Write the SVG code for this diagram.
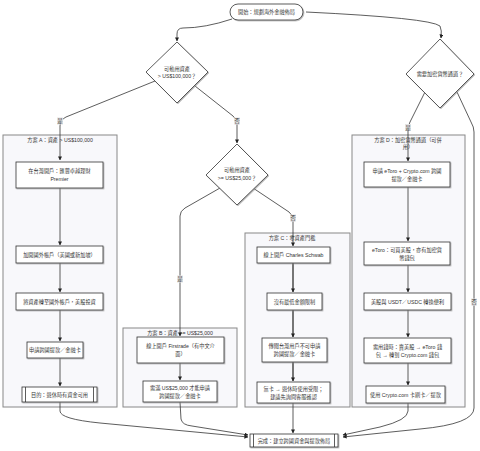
<svg xmlns="http://www.w3.org/2000/svg" width="480" height="451" viewBox="0 0 480 451">
<defs>
<style>
text{font-family:"Liberation Sans","Noto Sans CJK TC",sans-serif;font-size:5.2px;fill:#333;text-anchor:middle;dominant-baseline:central}
.cl{fill:#f8f8fb;stroke:#888;stroke-width:1}
.n{fill:#fff;stroke:#333;stroke-width:0.8;filter:url(#sh)}
.e{fill:none;stroke:#333;stroke-width:0.8;marker-end:url(#ar)}
.ec{fill:none;stroke:#555;stroke-width:1.6;marker-end:url(#ar)}
.lb{fill:#e3e3e3}
</style>
<filter id="sh" x="-10%" y="-10%" width="130%" height="140%"><feDropShadow dx="0.8" dy="0.8" stdDeviation="0.4" flood-color="#888" flood-opacity="0.7"/></filter>
<marker id="ar" viewBox="0 0 10 10" refX="9" refY="5" markerWidth="4" markerHeight="4" markerUnits="userSpaceOnUse" orient="auto"><path d="M0,0 L10,5 L0,10 z" fill="#222"/></marker>
</defs>
<rect width="480" height="451" fill="#fff"/>

<g id="clusters">
<g id="clusterA"><rect class="cl" x="3" y="135" width="114" height="272"/><text x="60" y="140">方案 A：資產 &gt; US$100,000</text></g>
<g id="clusterB"><rect class="cl" x="123" y="328" width="114" height="79"/><text x="180" y="333">方案 B：資產 &gt;= US$25,000</text></g>
<g id="clusterC"><rect class="cl" x="245" y="233" width="105" height="174"/><text x="292" y="238">方案 C：零資產門檻</text></g>
<g id="clusterD"><rect class="cl" x="352" y="135" width="113" height="272"/><text x="408" y="139.5">方案 D：加密貨幣通道（可併</text><text x="408" y="146.5">用）</text></g>
</g>

<g id="connectors">
<path class="e" d="M232,19 Q205,28 183,28 Q177,28 177,34 L177,41"/>
<path class="e" d="M306,12 Q430,18 440,26 Q442,30 441,38"/>
<path class="e" d="M155,81 L66,117 Q60,120 60,126 L60,160"/>
<path class="e" d="M195,86 L233,116 Q237,119 237,124 L237,143"/>
<path class="e" d="M220,188 L185,208 Q180,211 180,216 L180,336"/>
<path class="e" d="M253,188 L289,212 Q293,215 293,220 L293,246"/>
<path class="e" d="M425,92 L410,122 Q408,126 408,130 L408,161"/>
<path class="e" d="M457,92 L471,122 Q474,127 474,132 L474,408 Q474,424 420,429 L343,437"/>
<path class="e" d="M60,188 L60,245"/>
<path class="e" d="M60,263 L60,292"/>
<path class="e" d="M60,310 L60,341"/>
<path class="e" d="M60,358 L60,386"/>
<path class="e" d="M60,402 L60,411 Q60,419 100,423 L248,437"/>
<path class="e" d="M180,363 L180,380"/>
<path class="e" d="M180,402 L181,419 Q182,425 192,426 L248,435"/>
<path class="ec" d="M293,263 L293,292"/>
<path class="ec" d="M293,310 L293,337"/>
<path class="ec" d="M293,362 L293,381"/>
<path class="e" d="M293,403 L293,433"/>
<path class="e" d="M408,187 L408,241"/>
<path class="e" d="M408,265 L408,292"/>
<path class="e" d="M408,310 L408,337"/>
<path class="e" d="M408,363 L408,385"/>
<path class="e" d="M408,403 L408,411 Q408,420 380,427 L343,435"/>
<g id="edge-labels">
<rect class="lb" x="57" y="117.5" width="6" height="7"/><text x="60" y="121">是</text>
<rect class="lb" x="234" y="117.5" width="6" height="7"/><text x="237" y="121">否</text>
<rect class="lb" x="177" y="275.5" width="6" height="7"/><text x="180" y="279">是</text>
<rect class="lb" x="290" y="214.5" width="6" height="7"/><text x="293" y="218">否</text>
<rect class="lb" x="405" y="124" width="6" height="7"/><text x="408" y="127.5">是</text>
<rect class="lb" x="471" y="298.5" width="6" height="7"/><text x="474" y="302">否</text>
</g>
</g>

<g id="start"><rect class="n" x="230" y="4" width="73" height="16" rx="8"/><text x="266.5" y="12">開始：規劃海外金融佈局</text></g>
<g id="dec1"><polygon class="n" points="177,42 208,72 177,103 146,72"/><text x="177" y="68.5">可動用資產</text><text x="177" y="76">&gt; US$100,000？</text></g>
<g id="dec2"><polygon class="n" points="237,144 268,175 237,205 206,175"/><text x="237" y="170">可動用資產</text><text x="237" y="177.5">&gt;= US$25,000？</text></g>
<g id="dec3"><polygon class="n" points="440,39 474,74 440,108 406,74"/><text x="440" y="74">需要加密貨幣通道？</text></g>

<g id="A1"><rect class="n" x="16" y="162" width="87" height="26"/><text x="59.5" y="171">在台灣開戶：匯豐卓越理財</text><text x="59.5" y="179">Premier</text></g>
<g id="A2"><rect class="n" x="16" y="246" width="87" height="17"/><text x="59.5" y="254.5">加開國外帳戶（美國或新加坡）</text></g>
<g id="A3"><rect class="n" x="16" y="293" width="87" height="17"/><text x="59.5" y="301.5">將資產轉至國外帳戶，美股投資</text></g>
<g id="A4"><rect class="n" x="27" y="342" width="56" height="16"/><text x="55" y="350">申請跨國提款／金融卡</text></g>
<g id="A5"><rect class="n" x="22" y="387" width="75" height="15"/><line x1="25.5" y1="387" x2="25.5" y2="402" stroke="#333" stroke-width="0.8"/><line x1="93.5" y1="387" x2="93.5" y2="402" stroke="#333" stroke-width="0.8"/><text x="59.5" y="394.5">目的：退休時有資金可用</text></g>

<g id="B1"><rect class="n" x="137" y="337" width="87" height="26"/><text x="180.5" y="346">線上開戶 Firstrade（有中文介</text><text x="180.5" y="354">面）</text></g>
<g id="B2"><rect class="n" x="143" y="381" width="74" height="21"/><text x="180" y="387.5">需滿 US$25,000 才能申請</text><text x="180" y="395.5">跨國提款／金融卡</text></g>

<g id="C1"><rect class="n" x="257" y="247" width="73" height="16"/><text x="293.5" y="255">線上開戶 Charles Schwab</text></g>
<g id="C2"><rect class="n" x="267" y="293" width="55" height="17"/><text x="294.5" y="301.5">沒有最低金額限制</text></g>
<g id="C3"><rect class="n" x="262" y="338" width="65" height="24"/><text x="294.5" y="346">傳聞台灣用戶不可申請</text><text x="294.5" y="354">跨國提款／金融卡</text></g>
<g id="C4"><rect class="n" x="257" y="382" width="73" height="21"/><text x="293.5" y="388.5">無卡 → 退休時使用受限；</text><text x="293.5" y="396.5">建議先詢問客服確認</text></g>

<g id="D1"><rect class="n" x="364" y="162" width="86" height="25"/><text x="407" y="170.5">申請 eToro + Crypto.com 跨國</text><text x="407" y="178.5">提款／金融卡</text></g>
<g id="D2"><rect class="n" x="364" y="242" width="86" height="23"/><text x="407" y="249.5">eToro：可買美股，亦有加密貨</text><text x="407" y="257.5">幣錢包</text></g>
<g id="D3"><rect class="n" x="364" y="293" width="87" height="17"/><text x="407.5" y="301.5">美股與 USDT／USDC 轉換便利</text></g>
<g id="D4"><rect class="n" x="364" y="338" width="87" height="25"/><text x="407.5" y="346.5">需用錢時：賣美股 → eToro 錢</text><text x="407.5" y="354.5">包 → 轉到 Crypto.com 錢包</text></g>
<g id="D5"><rect class="n" x="366" y="386" width="79" height="17"/><text x="405.5" y="394.5">使用 Crypto.com 卡刷卡／提款</text></g>

<g id="end"><rect class="n" x="250" y="434" width="88" height="13"/><line x1="253.5" y1="434" x2="253.5" y2="447" stroke="#333" stroke-width="0.8"/><line x1="334.5" y1="434" x2="334.5" y2="447" stroke="#333" stroke-width="0.8"/><text x="294" y="440.5">完成：建立跨國資金與提款佈局</text></g>
</svg>
